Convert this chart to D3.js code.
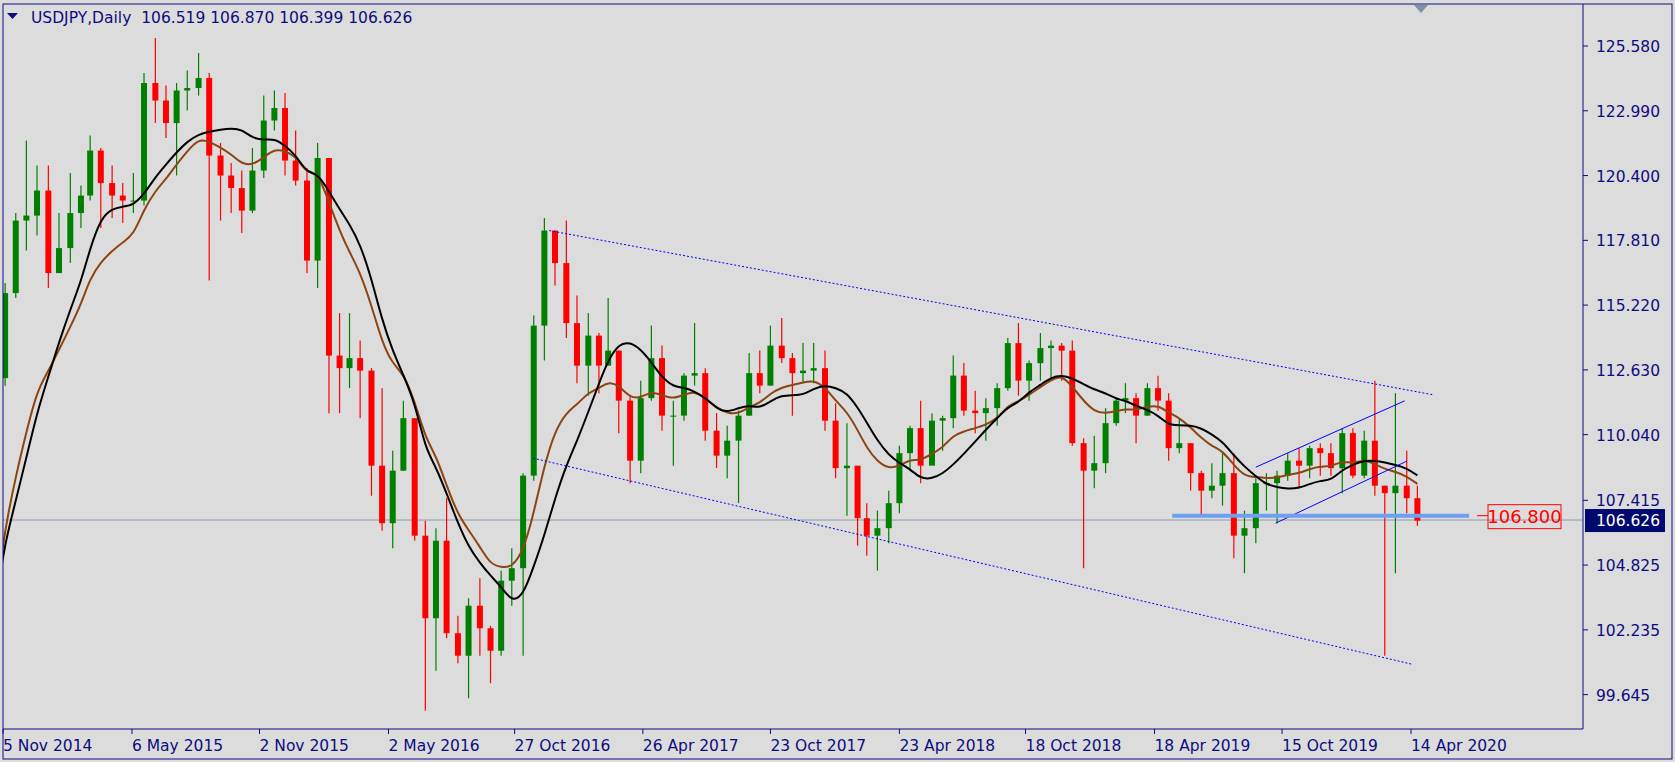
<!DOCTYPE html>
<html><head><meta charset="utf-8">
<script src="https://cdnjs.cloudflare.com/ajax/libs/d3/7.8.5/d3.min.js"></script>
<style>body{margin:0;background:#dcdcdc;}svg{display:block;font-family:Tahoma,"DejaVu Sans",sans-serif;}</style>
</head><body><svg id="c" width="1675" height="762"></svg>
<script>
// half-month periods starting 1 Nov 2014 (a = 1st-15th, b = 16th-end)
const firstOpen = 112.3;
const closes = [115.7,118.6,118.8,119.8,116.5,117.5,118.9,119.6,121.4,120.1,119.6,119.4,119.4,124.1,123.4,122.5,123.8,123.9,124.3,121.2,120.4,119.9,119.0,120.6,122.6,123.1,121.0,120.2,
117.0,121.1,113.2,112.7,113.1,112.6,108.8,106.5,108.6,110.7,106.0,102.7,105.8,102.1,101.2,103.2,102.3,101.4,104.2,104.7,108.4,114.4,118.2,116.9,
114.5,112.8,114.0,112.8,113.4,111.4,109.0,111.5,113.1,110.8,110.8,112.4,112.5,110.2,109.2,109.8,110.8,112.5,112.0,113.6,113.1,112.5,112.6,112.7,
110.6,108.7,108.8,106.7,106.0,106.3,107.3,109.3,110.3,108.8,110.6,110.7,112.4,111.0,110.9,111.1,111.9,113.7,112.2,112.9,113.5,113.6,113.4,109.7,
108.6,108.9,110.5,111.4,111.5,110.8,111.9,111.4,109.5,109.7,108.5,107.8,108.0,108.5,106.0,106.3,108.1,108.1,108.4,109.0,108.8,109.5,109.3,108.7,
110.1,108.4,109.8,108.0,107.7,108.0,107.5,106.6];
const highs = [116.1,118.9,121.8,120.8,120.8,118.9,120.5,120.0,122.0,121.5,120.8,120.1,120.5,124.5,125.9,124.0,124.1,124.6,125.3,124.5,121.7,120.9,120.6,121.5,123.6,123.8,123.7,122.2,
120.7,121.7,121.1,114.9,114.9,113.8,112.7,111.9,109.4,111.4,110.5,106.6,106.3,107.5,102.8,103.5,104.3,102.4,104.6,105.5,108.5,114.8,118.7,118.2,
118.6,115.6,114.9,114.1,115.5,113.4,111.6,112.2,114.4,113.6,111.4,112.5,114.5,112.7,110.9,110.4,111.0,113.3,113.4,114.4,114.7,113.3,113.7,113.7,
113.4,111.3,110.5,107.9,107.3,107.0,107.8,109.6,110.4,111.4,110.9,110.8,113.2,112.9,111.8,111.5,112.1,113.9,114.5,113.0,114.1,113.8,113.7,113.8,
109.9,110.0,111.1,111.5,112.1,111.7,112.1,112.4,111.7,110.7,109.0,108.6,108.9,109.3,109.3,107.0,108.3,108.5,108.6,109.3,109.5,109.6,109.7,109.7,
110.3,110.3,110.2,112.2,108.0,111.7,109.4,108.0];
const lows = [112.0,115.5,117.4,118.0,115.9,116.9,116.9,118.3,119.4,118.3,118.7,118.5,118.9,119.2,122.5,121.9,120.4,123.0,123.6,116.2,118.6,118.9,118.1,118.9,120.3,122.2,120.4,120.0,
116.5,115.9,110.9,110.9,111.9,110.7,107.6,106.2,105.5,108.6,105.8,99.0,100.6,101.9,100.9,99.5,101.2,100.1,101.2,103.2,101.2,108.2,113.0,116.0,
113.9,112.1,111.6,111.7,112.8,110.1,108.1,108.5,111.4,110.2,108.8,110.6,112.0,109.8,108.7,108.3,107.3,110.8,111.7,112.0,112.9,110.8,112.1,112.1,
110.2,108.3,106.8,105.6,105.2,104.6,105.7,106.9,108.6,108.1,108.9,109.4,110.3,110.8,110.1,109.8,110.4,111.8,111.6,111.4,112.2,112.3,112.2,109.6,
104.7,107.9,108.5,110.4,110.9,109.7,110.8,111.0,109.0,109.3,107.8,106.8,107.5,107.2,105.1,104.5,105.7,107.0,106.5,108.2,107.9,108.3,108.4,108.4,
107.7,108.3,108.3,107.6,101.2,104.5,106.9,106.4];
const priorCloses = [101.9,102.0,101.5,101.8,102.1,103.8,105.7,108.6,107.9,108.2];
const yTickLabels = ["125.580","122.990","120.400","117.810","115.220","112.630","110.040","107.415","104.825","102.235","99.645"];
const xTickLabels = ["2014-11-05","2015-05-06","2015-11-02","2016-05-02","2016-10-27","2017-04-26","2017-10-23","2018-04-23","2018-10-18","2019-04-18","2019-10-15","2020-04-14"];
const channelUpper = [["2016-12-15",118.2],["2020-05-16",111.63]];
const channelLower = [["2016-11-22",109.1],["2020-04-17",100.85]];
const riseUpper = [["2019-09-08",108.74],["2020-04-05",111.39]];
const riseLower = [["2019-10-06",106.5],["2020-04-08",108.98]];
const levelLine = {from:"2019-05-13", to:"2020-07-05", price:106.80};
const lastPrice = 106.626;
const header = ["USDJPY,Daily","106.519","106.870","106.399","106.626"];

const P = d3.timeParse("%Y-%m-%d");
const svg = d3.select("#c");
const L=3,T=4,R=1583,B=729;
const x = d3.scaleTime().domain([P("2014-11-05"),P("2020-04-14")]).range([3,1411]);
const y = d3.scaleLinear().domain([98.27,127.26]).range([B,T]);
const navy="#0c0c80";

const bars = closes.map((c,i)=>{
  const m=10+Math.floor(i/2), yr=2014+Math.floor(m/12), mo=m%12;
  const mid=new Date(yr,mo,i%2?23:8);
  return {date:mid,open:i?closes[i-1]:firstOpen,close:c,high:highs[i],low:lows[i]};
});
const all = priorCloses.concat(closes);
const N=priorCloses.length;
const sma=[],ema=[];
let e = d3.mean(priorCloses);
for(let i=N;i<all.length;i++){
  sma.push(d3.mean(all.slice(i-N+1,i+1)));
  e = e + 0.17*(all[i]-e);
  ema.push(e);
}
const maStartX = P("2014-10-30");
svg.append("rect").attr("width",1675).attr("height",762).attr("fill","#dcdcdc");
const g = svg.append("g");
svg.append("clipPath").attr("id","cp").append("rect").attr("x",L).attr("y",T).attr("width",R-L).attr("height",B-T);
const pg = g.append("g").attr("clip-path","url(#cp)");

pg.append("line").attr("x1",L).attr("x2",R).attr("y1",y(lastPrice)).attr("y2",y(lastPrice)).attr("stroke","#8c9cae").attr("stroke-width",1);

const w=3;
const cb = pg.selectAll("g.bar").data(bars).enter().append("g");
cb.append("line").attr("x1",d=>x(d.date)).attr("x2",d=>x(d.date)).attr("y1",d=>y(d.high)).attr("y2",d=>y(d.low))
  .attr("stroke",d=>d.close>=d.open?"#008000":"#ff0000").attr("stroke-width",1.2);
cb.append("rect").attr("x",d=>x(d.date)-w).attr("width",2*w)
  .attr("y",d=>y(Math.max(d.open,d.close))).attr("height",d=>Math.max(1,Math.abs(y(d.open)-y(d.close))))
  .attr("fill",d=>d.close>=d.open?"#008000":"#ff0000");

const maDates=[maStartX].concat(bars.map(d=>d.date));
const line=d3.line().x((d,i)=>x(maDates[i])).y(d=>y(d)).curve(d3.curveBasis);
const prior=d3.mean(priorCloses);
pg.append("path").attr("d",line([prior].concat(ema))).attr("fill","none").attr("stroke","#8b4513").attr("stroke-width",2);
pg.append("path").attr("d",line([prior-0.3].concat(sma))).attr("fill","none").attr("stroke","#000").attr("stroke-width",2);

function seg(a,attrs){const l=pg.append("line").attr("x1",x(P(a[0][0]))).attr("y1",y(a[0][1])).attr("x2",x(P(a[1][0]))).attr("y2",y(a[1][1]));for(const k in attrs)l.attr(k,attrs[k]);}
seg(channelUpper,{stroke:"#0000ff","stroke-width":1,"stroke-dasharray":"2,2"});
seg(channelLower,{stroke:"#0000ff","stroke-width":1,"stroke-dasharray":"2,2"});
seg(riseUpper,{stroke:"#0000ff","stroke-width":1});
seg(riseLower,{stroke:"#0000ff","stroke-width":1});
g.append("line").attr("x1",x(P(levelLine.from))).attr("x2",x(P(levelLine.to))).attr("y1",y(levelLine.price)).attr("y2",y(levelLine.price)).attr("stroke","#6f9ff0").attr("stroke-width",4);
const ly=y(levelLine.price);
g.append("line").attr("x1",1477).attr("x2",1488).attr("y1",ly).attr("y2",ly).attr("stroke","#ff0000");
g.append("rect").attr("x",1488).attr("y",ly-11).attr("width",73).attr("height",24).attr("fill","none").attr("stroke","#ff0000");
g.append("text").attr("x",1524.5).attr("y",ly+7).attr("text-anchor","middle").attr("fill","#ff0000").attr("font-size",18).text(levelLine.price.toFixed(3));

g.append("rect").attr("x",L).attr("y",T).attr("width",1669).attr("height",755).attr("fill","none").attr("stroke",navy).attr("stroke-width",1);
g.append("line").attr("x1",R).attr("x2",R).attr("y1",T).attr("y2",B).attr("stroke",navy);
g.append("line").attr("x1",L).attr("x2",R).attr("y1",B).attr("y2",B).attr("stroke",navy);

yTickLabels.forEach(t=>{const yy=y(+t);
  g.append("line").attr("x1",R).attr("x2",R+5).attr("y1",yy).attr("y2",yy).attr("stroke",navy);
  g.append("text").attr("x",R+13).attr("y",yy+6).attr("fill",navy).attr("font-size",15.5).text(t);});
const lp=y(lastPrice);
g.append("rect").attr("x",R+2).attr("y",lp-11).attr("width",80).attr("height",23).attr("fill","#000a6e");
g.append("text").attr("x",R+13).attr("y",lp+6).attr("fill","#fff").attr("font-size",15.5).text(lastPrice.toFixed(3));
const fmt=d3.timeFormat("%-d %b %Y");
xTickLabels.forEach(t=>{const xx=x(P(t));
  g.append("line").attr("x1",xx).attr("x2",xx).attr("y1",B).attr("y2",B+5).attr("stroke",navy);
  g.append("text").attr("x",xx).attr("y",B+22).attr("fill",navy).attr("font-size",15.5).text(fmt(P(t)));});
g.append("path").attr("d","M7,13 L18,13 L12.5,19 Z").attr("fill",navy);
g.append("text").attr("x",31).attr("y",23).attr("fill",navy).attr("font-size",15.5).attr("xml:space","preserve")
  .text(header[0]+"  "+header.slice(1).join(" "));
g.append("path").attr("d","M1414,5 L1428,5 L1421,13 Z").attr("fill","#8090a8");
</script></body></html>
